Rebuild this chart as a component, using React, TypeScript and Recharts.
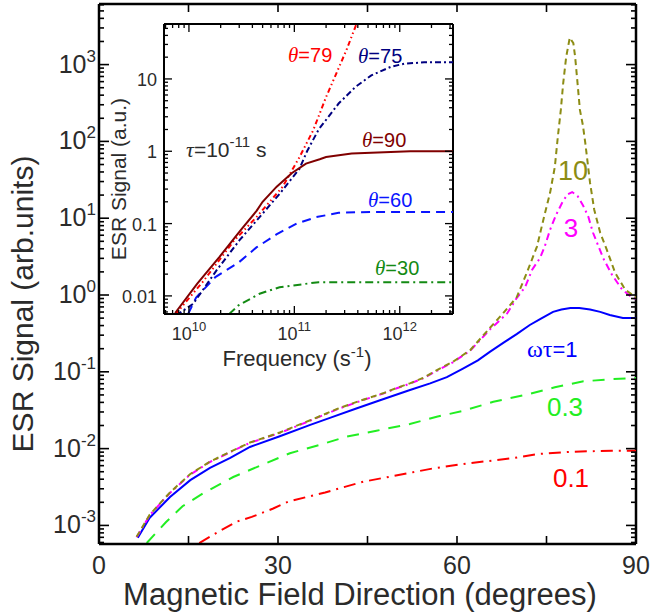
import React from 'react';
import { LineChart, Line, XAxis, YAxis, ReferenceLine } from 'recharts';

// ---------- Main chart data (theta in degrees, ESR signal in arb. units) ----------
const wt10Theta = [6.3, 8.5, 11.9, 15.3, 18.6, 22, 25.3, 30.3, 35.4, 40, 44, 47.6, 49.9, 52.1, 54.3, 57.1, 59.3, 62.2, 65.5, 67.7, 70, 71.7, 73.4, 74.6, 75.6, 76.4, 76.9, 77.4, 77.8, 78.3, 78.9, 79.5, 79.8, 80.2, 80.6, 81.1, 81.5, 82.3, 83, 84, 85.1, 86.5, 88.2, 90];
const wt10Signal = [7.1e-4, 1.38e-3, 2.69e-3, 4.68e-3, 6.76e-3, 9.12e-3, 0.012, 0.0162, 0.0234, 0.0331, 0.0427, 0.0525, 0.0617, 0.0708, 0.0832, 0.11, 0.135, 0.191, 0.372, 0.575, 0.933, 1.95, 4.27, 10.5, 21.4, 46.8, 115, 257, 575, 1259, 2239, 1905, 1259, 575, 257, 162, 95.5, 28.8, 12.9, 6.46, 3.89, 1.95, 1.17, 0.933];

const wt3Theta = [6.3, 8.5, 11.9, 15.3, 18.6, 22, 25.3, 30.3, 35.4, 40, 44, 47.6, 49.9, 52.1, 54.3, 57.1, 59.3, 62.2, 65.5, 68.4, 70, 71.4, 72.6, 73.9, 74.7, 75.6, 76.6, 77.6, 78.5, 79.3, 80.2, 81.1, 82, 82.8, 84.5, 86, 87.7, 89.5, 90];
const wt3Signal = [7.0e-4, 1.36e-3, 2.65e-3, 4.6e-3, 6.7e-3, 9.0e-3, 0.0119, 0.016, 0.0231, 0.0327, 0.0422, 0.052, 0.061, 0.07, 0.082, 0.108, 0.133, 0.188, 0.355, 0.575, 0.912, 1.26, 2.14, 3.02, 4.27, 7.08, 11.0, 15.8, 20.4, 21.9, 19.5, 14.8, 10.5, 6.46, 3.02, 1.82, 1.17, 0.912, 0.891];

const wt1Theta = [6.5, 8.5, 11.9, 15.3, 18.6, 22, 25.3, 30.3, 35.4, 38.7, 43, 47.1, 52, 55.5, 58.3, 61, 63.5, 65.5, 68, 70, 72.2, 74, 76.1, 77.5, 79, 80.5, 82.3, 84, 85.6, 87.8, 90];
const wt1Signal = [6.9e-4, 1.26e-3, 2.34e-3, 3.89e-3, 5.62e-3, 7.59e-3, 0.0105, 0.0145, 0.0204, 0.0251, 0.0331, 0.0427, 0.0575, 0.0708, 0.0851, 0.11, 0.141, 0.182, 0.245, 0.309, 0.407, 0.49, 0.603, 0.646, 0.676, 0.676, 0.646, 0.603, 0.55, 0.501, 0.501];

const wt03Theta = [8.0, 11.2, 14, 17.5, 22.5, 27, 32, 37, 41.5, 46.5, 52.1, 56.6, 61.1, 66.1, 71.4, 76.4, 81.2, 86.2, 90];
const wt03Signal = [5.9e-4, 1.1e-3, 1.78e-3, 2.63e-3, 4.27e-3, 6.0e-3, 8.71e-3, 0.0112, 0.0143, 0.0171, 0.0209, 0.026, 0.0311, 0.0408, 0.0499, 0.0628, 0.0752, 0.0805, 0.083];

const wt01Theta = [16.8, 20.3, 23.1, 25.6, 29.2, 31.7, 37.9, 44.3, 50.2, 56, 61.9, 69.2, 73.6, 79.5, 85.9, 90];
const wt01Signal = [5.9e-4, 8.5e-4, 1.12e-3, 1.29e-3, 1.66e-3, 2.04e-3, 2.69e-3, 3.71e-3, 4.53e-3, 5.53e-3, 6.44e-3, 7.48e-3, 8.51e-3, 9.12e-3, 9.4e-3, 9.4e-3];

// ---------- Inset data (frequency in s^-1, ESR signal in a.u.) ----------
const th90Freq = [7.4e9, 1.2e10, 1.95e10, 3.1e10, 4.4e10, 5.0e10, 6.8e10, 9.5e10, 1.29e11, 1.74e11, 2.0e11, 3.5e11, 1.26e12, 3.3e12];
const th90Signal = [0.0058, 0.0148, 0.0347, 0.0813, 0.151, 0.2, 0.324, 0.501, 0.676, 0.776, 0.832, 0.933, 1.0, 1.0];

const th79Freq = [7.4e9, 1.38e10, 2.63e10, 4.37e10, 7.76e10, 1.12e11, 1.51e11, 2.0e11, 2.51e11, 3.16e11, 3.98e11];
const th79Signal = [0.0055, 0.0162, 0.0562, 0.123, 0.324, 0.832, 1.95, 5.62, 12.0, 26.3, 63.1];

const th75Freq = [7.6e9, 1.1e10, 1.82e10, 3.02e10, 4.68e10, 7.24e10, 1.12e11, 1.32e11, 1.7e11, 2.63e11, 3.8e11, 5.37e11, 8.3e11, 1.1e12, 1.7e12, 3.3e12];
const th75Signal = [0.0054, 0.0078, 0.0224, 0.0589, 0.123, 0.257, 0.575, 1.0, 2.0, 4.57, 7.76, 11.2, 14.8, 16.2, 17.0, 17.0];

const th60Freq = [9.8e9, 1.17e10, 1.78e10, 2.95e10, 4.37e10, 6.76e10, 1.05e11, 1.62e11, 2.63e11, 5.37e11, 3.3e12];
const th60Signal = [0.0056, 0.0095, 0.0182, 0.0288, 0.0468, 0.0708, 0.1, 0.123, 0.141, 0.145, 0.145];

const th30Freq = [2.4e10, 2.95e10, 4.68e10, 7.24e10, 1.2e11, 1.7e11, 3.3e12];
const th30Signal = [0.0056, 0.0074, 0.0107, 0.0132, 0.0145, 0.0155, 0.0155];

// ---------- Ticks / labels ----------
const mainXTicks = [0, 15, 30, 45, 60, 75, 90];
const mainXLabels = ['0', '', '30', '', '60', '', '90'];
const mainYMajor = [1e-3, 1e-2, 1e-1, 1, 10, 100, 1000];
const mainYExp = ['-3', '-2', '-1', '0', '1', '2', '3'];
const MAIN_Y_DOMAIN: [number, number] = [5.73e-4, 6150];

const insetXMajor = [1e10, 1e11, 1e12];
const insetXExp = ['10', '11', '12'];
const insetYMajor = [0.01, 0.1, 1, 10];
const insetYLabels = ['0.01', '0.1', '1', '10'];
const INSET_X_DOMAIN: [number, number] = [5.8e9, 3.2e12];
const INSET_Y_DOMAIN: [number, number] = [0.00562, 57.5];

const toPoints = (xs: number[], ys: number[]) => xs.map((x, i) => ({ x, y: ys[i] }));

const logTicks = (lo: number, hi: number) => {
  const out: number[] = [];
  for (let d = Math.floor(Math.log10(lo)); d <= Math.ceil(Math.log10(hi)); d++) {
    for (let m = 1; m <= 9; m++) {
      const v = m * Math.pow(10, d);
      if (v >= lo && v <= hi) out.push(v);
    }
  }
  return out;
};
const isDecade = (v: number) => {
  const l = Math.log10(v);
  return Math.abs(l - Math.round(l)) < 1e-6;
};
const idxOf = (arr: number[], v: number) => arr.findIndex((a) => Math.abs(Math.log10(a) - Math.log10(v)) < 1e-6);

const FONT = '"Liberation Sans", Arial, Helvetica, sans-serif';
const SERIF = '"Liberation Serif", "Times New Roman", serif';
const TXT = '#2b2b2b';

// main plot box
const PL = 99, PR = 636, PT = 4, PB = 544;
// inset plot box (in inset-svg coords; inset svg sits at left 100)
const IOX = 100;
const IL = 64, IR = 353, IT = 24, IB = 314;

const MainYTick = (props: any) => {
  const { y, payload } = props;
  const v = payload.value;
  const major = isDecade(v);
  const len = major ? 10 : 5;
  const i = major ? idxOf(mainYMajor, v) : -1;
  return (
    <g>
      <line x1={PL} x2={PL + len} y1={y} y2={y} stroke="#000" strokeWidth={1.6} />
      <line x1={PR} x2={PR - len} y1={y} y2={y} stroke="#000" strokeWidth={1.6} />
      {i >= 0 && (
        <text x={96} y={y + 8} textAnchor="end" fontSize={25} fontFamily={FONT} fill={TXT}>
          10<tspan dy={-11} fontSize={17}>{mainYExp[i]}</tspan>
        </text>
      )}
    </g>
  );
};

const MainXTick = (props: any) => {
  const { x, payload } = props;
  const i = mainXTicks.indexOf(payload.value);
  return (
    <g>
      <line x1={x} x2={x} y1={PB} y2={PB - 8} stroke="#000" strokeWidth={1.6} />
      <line x1={x} x2={x} y1={PT} y2={PT + 8} stroke="#000" strokeWidth={1.6} />
      {i >= 0 && mainXLabels[i] && (
        <text x={x} y={574} textAnchor="middle" fontSize={25} fontFamily={FONT} fill={TXT}>
          {mainXLabels[i]}
        </text>
      )}
    </g>
  );
};

const InsetYTick = (props: any) => {
  const { y, payload } = props;
  const v = payload.value;
  const major = isDecade(v);
  const len = major ? 8 : 4;
  const i = major ? idxOf(insetYMajor, v) : -1;
  return (
    <g>
      <line x1={IL} x2={IL + len} y1={y} y2={y} stroke="#000" strokeWidth={1.3} />
      <line x1={IR} x2={IR - len} y1={y} y2={y} stroke="#000" strokeWidth={1.3} />
      {i >= 0 && (
        <text x={57} y={y + 7} textAnchor="end" fontSize={18} fontFamily={FONT} fill={TXT}>
          {insetYLabels[i]}
        </text>
      )}
    </g>
  );
};

const InsetXTick = (props: any) => {
  const { x, payload } = props;
  const v = payload.value;
  const major = isDecade(v);
  const len = major ? 8 : 4;
  const i = major ? idxOf(insetXMajor, v) : -1;
  return (
    <g>
      <line x1={x} x2={x} y1={IB} y2={IB - len} stroke="#000" strokeWidth={1.3} />
      <line x1={x} x2={x} y1={IT} y2={IT + len} stroke="#000" strokeWidth={1.3} />
      {i >= 0 && (
        <text x={x} y={340} textAnchor="middle" fontSize={18} fontFamily={FONT} fill={TXT}>
          10<tspan dy={-9} fontSize={13}>{insetXExp[i]}</tspan>
        </text>
      )}
    </g>
  );
};

const Theta = ({ x, y, color, val }: { x: number; y: number; color: string; val: string }) => (
  <text x={x} y={y} fontSize={20} fontFamily={FONT} fill={color}>
    <tspan fontFamily={SERIF} fontStyle="italic" fontSize={21}>θ</tspan>={val}
  </text>
);

export default function App() {
  const mainYTicks = logTicks(MAIN_Y_DOMAIN[0], MAIN_Y_DOMAIN[1]);
  const insetYTicks = logTicks(INSET_Y_DOMAIN[0], INSET_Y_DOMAIN[1]);
  const insetXTicks = logTicks(INSET_X_DOMAIN[0], INSET_X_DOMAIN[1]);

  return (
    <div style={{ position: 'relative', width: 650, height: 614, background: '#fff' }}>
      <style>{'body{margin:0}'}</style>
      <div style={{ position: 'absolute', left: 0, top: 0 }}>
        <LineChart width={650} height={614} margin={{ top: PT, right: 650 - PR, bottom: 0, left: 0 }}>
          <XAxis
            type="number"
            dataKey="x"
            domain={[0, 90]}
            ticks={mainXTicks}
            interval={0}
            height={614 - PB}
            allowDataOverflow
            tickLine={false}
            axisLine={{ stroke: '#000', strokeWidth: 2.5 }}
            tick={<MainXTick />}
          />
          <YAxis
            type="number"
            scale="log"
            domain={MAIN_Y_DOMAIN}
            ticks={mainYTicks}
            interval={0}
            width={PL}
            allowDataOverflow
            tickLine={false}
            axisLine={{ stroke: '#000', strokeWidth: 2.5 }}
            tick={<MainYTick />}
          />
          <ReferenceLine y={MAIN_Y_DOMAIN[1]} stroke="#000" strokeWidth={2.5} />
          <ReferenceLine x={90} stroke="#000" strokeWidth={2.5} />
          <Line data={toPoints(wt01Theta, wt01Signal)} dataKey="y" stroke="#ff0000" strokeWidth={2} strokeDasharray="12 6 2 6" dot={false} isAnimationActive={false} />
          <Line data={toPoints(wt03Theta, wt03Signal)} dataKey="y" stroke="#22ee22" strokeWidth={2} strokeDasharray="12 9" dot={false} isAnimationActive={false} />
          <Line data={toPoints(wt1Theta, wt1Signal)} dataKey="y" stroke="#0000ff" strokeWidth={2} dot={false} isAnimationActive={false} />
          <Line data={toPoints(wt3Theta, wt3Signal)} dataKey="y" stroke="#ff00ff" strokeWidth={2} strokeDasharray="7 4 2 4" dot={false} isAnimationActive={false} />
          <Line data={toPoints(wt10Theta, wt10Signal)} dataKey="y" stroke="#8c8c14" strokeWidth={2} strokeDasharray="6 4" dot={false} isAnimationActive={false} />
        </LineChart>
      </div>

      <div style={{ position: 'absolute', left: IOX, top: 0 }}>
        <LineChart width={360} height={380} margin={{ top: IT, right: 360 - IR, bottom: 0, left: 0 }}>
          <XAxis
            type="number"
            scale="log"
            dataKey="x"
            domain={INSET_X_DOMAIN}
            ticks={insetXTicks}
            interval={0}
            height={380 - IB}
            allowDataOverflow
            tickLine={false}
            axisLine={{ stroke: '#000', strokeWidth: 2 }}
            tick={<InsetXTick />}
          />
          <YAxis
            type="number"
            scale="log"
            domain={INSET_Y_DOMAIN}
            ticks={insetYTicks}
            interval={0}
            width={IL}
            allowDataOverflow
            tickLine={false}
            axisLine={{ stroke: '#000', strokeWidth: 2 }}
            tick={<InsetYTick />}
          />
          <ReferenceLine y={INSET_Y_DOMAIN[1]} stroke="#000" strokeWidth={2} />
          <ReferenceLine x={INSET_X_DOMAIN[1]} stroke="#000" strokeWidth={2} />
          <Line data={toPoints(th30Freq, th30Signal)} dataKey="y" stroke="#138a13" strokeWidth={2} strokeDasharray="8 4 2 4" dot={false} isAnimationActive={false} />
          <Line data={toPoints(th60Freq, th60Signal)} dataKey="y" stroke="#0a14ff" strokeWidth={2} strokeDasharray="9 6" dot={false} isAnimationActive={false} />
          <Line data={toPoints(th75Freq, th75Signal)} dataKey="y" stroke="#000080" strokeWidth={2} strokeDasharray="6 3 2 3" dot={false} isAnimationActive={false} />
          <Line data={toPoints(th79Freq, th79Signal)} dataKey="y" stroke="#ff0000" strokeWidth={2} strokeDasharray="5 3 1.5 3 1.5 3" dot={false} isAnimationActive={false} />
          <Line data={toPoints(th90Freq, th90Signal)} dataKey="y" stroke="#800000" strokeWidth={2} dot={false} isAnimationActive={false} />
        </LineChart>
      </div>

      <svg width={650} height={614} style={{ position: 'absolute', left: 0, top: 0, pointerEvents: 'none' }}>
        {/* main titles */}
        <text transform="translate(33,304) rotate(-90)" textAnchor="middle" fontSize={30} fontFamily={FONT} fill={TXT}>
          ESR Signal (arb.units)
        </text>
        <text x={360} y={605} textAnchor="middle" fontSize={31} fontFamily={FONT} fill={TXT}>
          Magnetic Field Direction (degrees)
        </text>
        {/* main annotations */}
        <text x={573} y={180} textAnchor="middle" fontSize={27} fontFamily={FONT} fill="#8c8c14">10</text>
        <text x={571} y={237} textAnchor="middle" fontSize={26} fontFamily={FONT} fill="#ff00ff">3</text>
        <text x={527} y={357} fontSize={22} fontFamily={FONT} fill="#0000ff">
          <tspan fontFamily={SERIF} fontSize={24}>ωτ</tspan>=1
        </text>
        <text x={565} y={416} textAnchor="middle" fontSize={26} fontFamily={FONT} fill="#22ee22">0.3</text>
        <text x={571} y={487} textAnchor="middle" fontSize={26} fontFamily={FONT} fill="#ff0000">0.1</text>
        {/* inset titles */}
        <text transform="translate(126,179) rotate(-90)" textAnchor="middle" fontSize={21} fontFamily={FONT} fill={TXT}>
          ESR Signal (a.u.)
        </text>
        <text x={297} y={366} textAnchor="middle" fontSize={22} fontFamily={FONT} fill={TXT}>
          Frequency (s<tspan dy={-9} fontSize={15}>-1</tspan><tspan dy={9}>)</tspan>
        </text>
        <text x={186} y={157} fontSize={21} fontFamily={FONT} fill={TXT}>
          <tspan fontFamily={SERIF} fontStyle="italic" fontSize={22}>τ</tspan>=10<tspan dy={-10} fontSize={15}>-11</tspan><tspan dy={10}> s</tspan>
        </text>
        <Theta x={288} y={62} color="#ff0000" val="79" />
        <Theta x={358} y={63} color="#000080" val="75" />
        <Theta x={362} y={147} color="#800000" val="90" />
        <Theta x={368} y={207} color="#0a14ff" val="60" />
        <Theta x={375} y={275} color="#138a13" val="30" />
      </svg>
    </div>
  );
}
